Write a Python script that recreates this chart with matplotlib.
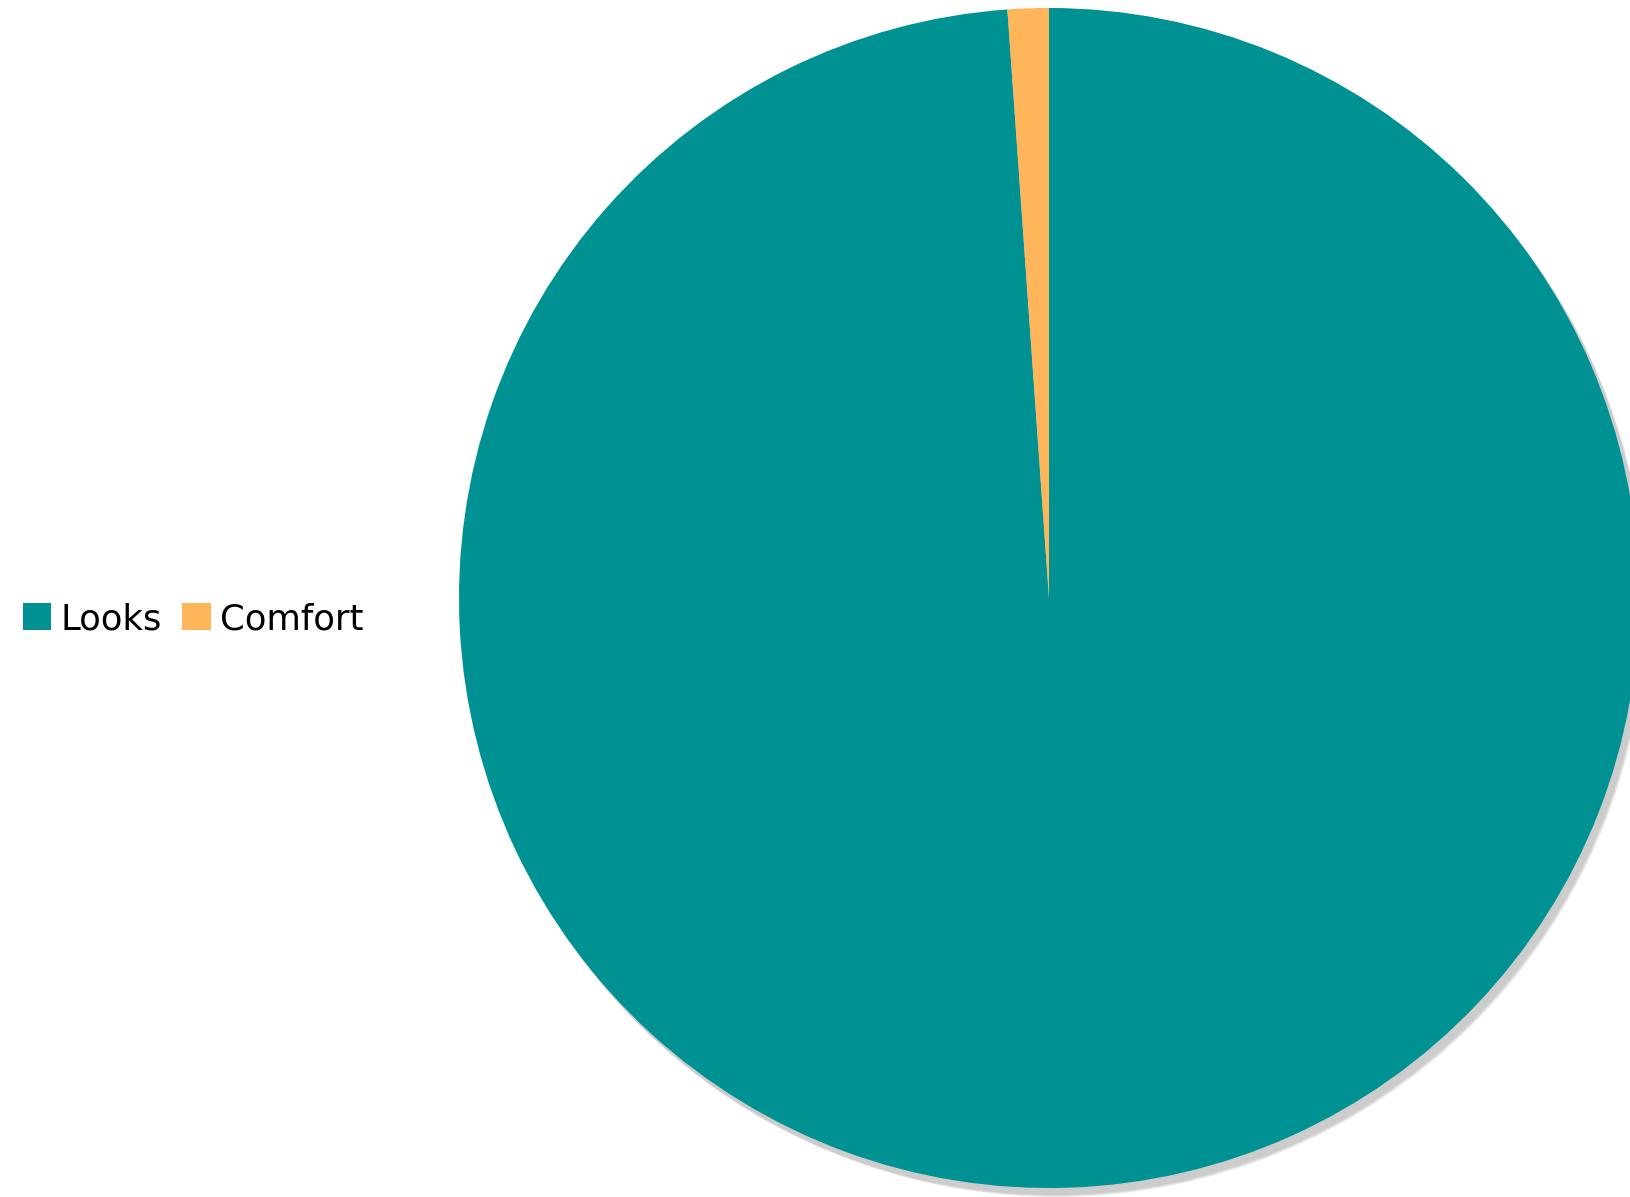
import matplotlib.pyplot as plt
from matplotlib.patches import Circle

labels = ['Looks', 'Comfort']
values = [88, 1]
colors = ['#009292', '#ffb65a']

W, H = 1630, 1197
fig = plt.figure(figsize=(W / 100, H / 100), dpi=100)
ax = fig.add_axes([0, 0, 1, 1])
ax.set_xlim(0, W)
ax.set_ylim(0, H)
ax.set_aspect('equal')
ax.axis('off')

cx, cy, r = 1049, H - 598, 590

# soft shadow down-right of the pie
for dx, dy, a in [(7, -9, 0.35), (6, -8, 0.6), (5, -7, 1.0)]:
    ax.add_patch(Circle((cx + dx, cy + dy), r, color='#cccccc', alpha=a, lw=0, zorder=1))

wedges, _ = ax.pie(values, colors=colors, startangle=90, counterclock=False,
                   center=(cx, cy), radius=r, frame=True,
                   wedgeprops=dict(linewidth=0, zorder=2))
ax.set_xlim(0, W)
ax.set_ylim(0, H)
ax.axis('off')

leg = fig.legend(wedges, labels, loc='center left', bbox_to_anchor=(23 / W, (H - 619) / H),
                 ncol=2, frameon=False, fontsize=25.5, handlelength=0.8, handleheight=0.8,
                 handletextpad=0.26, columnspacing=0.58, borderpad=0, borderaxespad=0)

fig.savefig('out.png', dpi=100)
